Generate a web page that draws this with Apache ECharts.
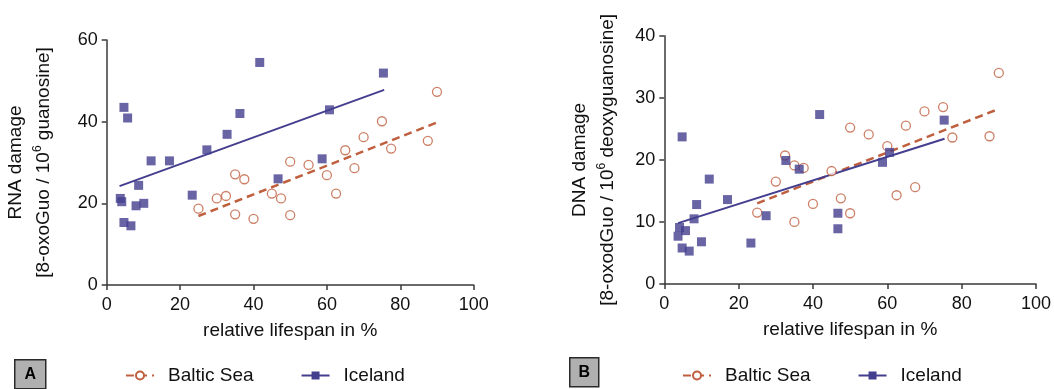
<!DOCTYPE html>
<html>
<head>
<meta charset="utf-8">
<script src="https://cdn.jsdelivr.net/npm/echarts@6/dist/echarts.min.js"></script>
<style>
  html, body { margin: 0; padding: 0; background: #fff; }
  #chart { width: 1054px; height: 389px; }
</style>
</head>
<body>
<div id="chart"></div>
<script>
// Relative lifespan (%) of each sampled animal
const balticX = [25, 30, 32.5, 35, 35, 37.5, 40, 45, 47.5, 50, 50, 55, 60, 62.5, 65, 67.5, 70, 75, 77.5, 87.5, 90];
const icelandXRna = [3.7, 4.1, 4.7, 5.7, 4.7, 6.6, 8.7, 8.0, 10.1, 12.1, 17.1, 23.3, 27.3, 32.8, 36.3, 41.7, 46.7, 58.7, 60.7, 75.4];
const icelandXDna = [3.7, 4.1, 4.8, 5.7, 4.8, 6.7, 8.7, 8.0, 10.0, 12.1, 17.0, 23.3, 27.4, 32.7, 36.3, 41.8, 46.7, 46.7, 58.7, 60.6, 75.3];

// RNA damage, 8-oxoGuo per 10^6 guanosine
const balticRna = [18.7, 21.2, 21.8, 27.1, 17.3, 25.9, 16.2, 22.4, 21.2, 30.2, 17.1, 29.4, 26.9, 22.4, 33.0, 28.6, 36.2, 40.1, 33.4, 35.3, 47.3];
const icelandRna = [21.2, 20.4, 43.5, 40.9, 15.3, 14.5, 24.4, 19.4, 20.0, 30.4, 30.4, 22.0, 33.1, 36.9, 42.0, 54.5, 26.0, 30.9, 42.9, 51.9];

// DNA damage, 8-oxodGuo per 10^6 deoxyguanosine
const balticDna = [11.5, 16.5, 20.7, 19.1, 10.0, 18.7, 12.9, 18.2, 13.8, 25.2, 11.4, 24.1, 22.2, 14.3, 25.5, 15.6, 27.8, 28.5, 23.6, 23.8, 34.0];
const icelandDna = [7.7, 9.1, 23.7, 8.6, 5.8, 5.3, 12.8, 10.5, 6.8, 16.9, 13.6, 6.6, 11.0, 19.9, 18.5, 27.3, 11.4, 8.9, 19.6, 21.2, 26.4];

// Linear regression lines: [x, y] at each end
const balticRnaFit = [[25, 16.9], [90, 39.8]];
const icelandRnaFit = [[3.5, 24.2], [75.6, 47.8]];
const balticDnaFit = [[25, 13.0], [90, 28.2]];
const icelandDnaFit = [[3.7, 9.8], [75.4, 23.4]];

const seriesNames = ['Baltic Sea', 'Iceland'];
const panelLabels = ['A', 'B'];
const xName = 'relative lifespan in %';
const rnaName = '{a|RNA damage}\n{a|[8-oxoGuo / 10}{s|6}{a| guanosine]}';
const dnaName = '{a|DNA damage}\n{a|[8-oxodGuo / 10}{s|6}{a| deoxyguanosine]}';

const BALTIC = '#bf5f3e';
const ICELAND = '#443e8f';
const AXIS = '#3a3a3a';
const FONT = 'Liberation Sans, Arial, sans-serif';

const zip = (xs, ys) => xs.map((x, i) => [x, ys[i]]);

function xAxis(gridIndex) {
  return {
    type: 'value', gridIndex, min: 0, max: 100, interval: 20,
    name: xName, nameLocation: 'middle', nameGap: 36,
    nameTextStyle: { fontFamily: FONT, fontSize: 19, color: '#111' },
    axisLine: { lineStyle: { color: AXIS, width: 1.5 } },
    axisTick: { inside: false, length: 5, lineStyle: { color: AXIS, width: 1.5 } },
    axisLabel: { fontFamily: FONT, fontSize: 18, color: '#111', margin: 11 },
    splitLine: { show: false }
  };
}
function yAxis(gridIndex, max, interval, name, gap) {
  return {
    type: 'value', gridIndex, min: 0, max, interval,
    name, nameLocation: 'middle', nameGap: gap, nameRotate: 90,
    nameTextStyle: {
      fontFamily: FONT, color: '#111', lineHeight: 28,
      rich: {
        a: { fontFamily: FONT, fontSize: 19, color: '#111', lineHeight: 28 },
        s: { fontFamily: FONT, fontSize: 12, color: '#111', verticalAlign: 'top', padding: [2, 0, 0, 0] }
      }
    },
    axisLine: { show: true, lineStyle: { color: AXIS, width: 1.5 } },
    axisTick: { show: true, inside: false, length: 5, lineStyle: { color: AXIS, width: 1.5 } },
    axisLabel: { fontFamily: FONT, fontSize: 18, color: '#111', margin: 9 },
    splitLine: { show: false }
  };
}

function fitLine(name, idx, data, color, dashed) {
  return {
    name, type: 'line', xAxisIndex: idx, yAxisIndex: idx, data,
    symbol: dashed ? 'emptyCircle' : 'rect', showSymbol: false, silent: true, z: 3,
    itemStyle: { color },
    lineStyle: { color, width: dashed ? 2.5 : 2, type: dashed ? [8, 5] : 'solid' }
  };
}
function points(name, idx, data, color, hollow) {
  return {
    name, type: 'scatter', xAxisIndex: idx, yAxisIndex: idx, data, z: 4,
    symbol: hollow ? 'circle' : 'rect',
    symbolSize: 9,
    itemStyle: hollow
      ? { color: '#fff', borderColor: color, borderWidth: 1.3 }
      : { color, borderWidth: 0 }
  };
}

function legend(left) {
  return {
    data: seriesNames, left, top: 366, orient: 'horizontal', padding: 0,
    itemWidth: 28, itemHeight: 10, itemGap: 47,
    textStyle: { fontFamily: FONT, fontSize: 19, color: '#111', padding: [0, 0, 0, 9] }
  };
}

function panelTag(x, y, w, h, text) {
  return {
    type: 'group', left: x, top: y,
    children: [
      { type: 'rect', shape: { x: 0, y: 0, width: w, height: h },
        style: { fill: '#b0b0b0', stroke: '#2a2a2a', lineWidth: 1.5 } },
      { type: 'text', x: w / 2, y: h / 2,
        style: { text, fontFamily: FONT, fontSize: 16, fontWeight: 'bold', fill: '#000',
                 align: 'center', verticalAlign: 'middle' } }
    ]
  };
}

const chart = echarts.init(document.getElementById('chart'), null, { renderer: 'canvas' });
chart.setOption({
  backgroundColor: '#fff',
  animation: false,
  grid: [
    { left: 106.7, right: 580.3, top: 40, bottom: 104 },
    { left: 664.3, right: 18, top: 35.7, bottom: 105 }
  ],
  xAxis: [xAxis(0), xAxis(1)],
  yAxis: [yAxis(0, 60, 20, rnaName, 49), yAxis(1, 40, 10, dnaName, 43)],
  legend: [legend(125), legend(682)],
  series: [
    fitLine(seriesNames[0], 0, balticRnaFit, BALTIC, true),
    fitLine(seriesNames[1], 0, icelandRnaFit, ICELAND, false),
    fitLine(seriesNames[0], 1, balticDnaFit, BALTIC, true),
    fitLine(seriesNames[1], 1, icelandDnaFit, ICELAND, false),
    points(seriesNames[0], 0, zip(balticX, balticRna), BALTIC, true),
    points(seriesNames[1], 0, zip(icelandXRna, icelandRna), ICELAND, false),
    points(seriesNames[0], 1, zip(balticX, balticDna), BALTIC, true),
    points(seriesNames[1], 1, zip(icelandXDna, icelandDna), ICELAND, false)
  ],
  graphic: [
    panelTag(14, 359, 31, 29, panelLabels[0]),
    panelTag(569, 357, 29, 29, panelLabels[1])
  ]
});
</script>
</body>
</html>
